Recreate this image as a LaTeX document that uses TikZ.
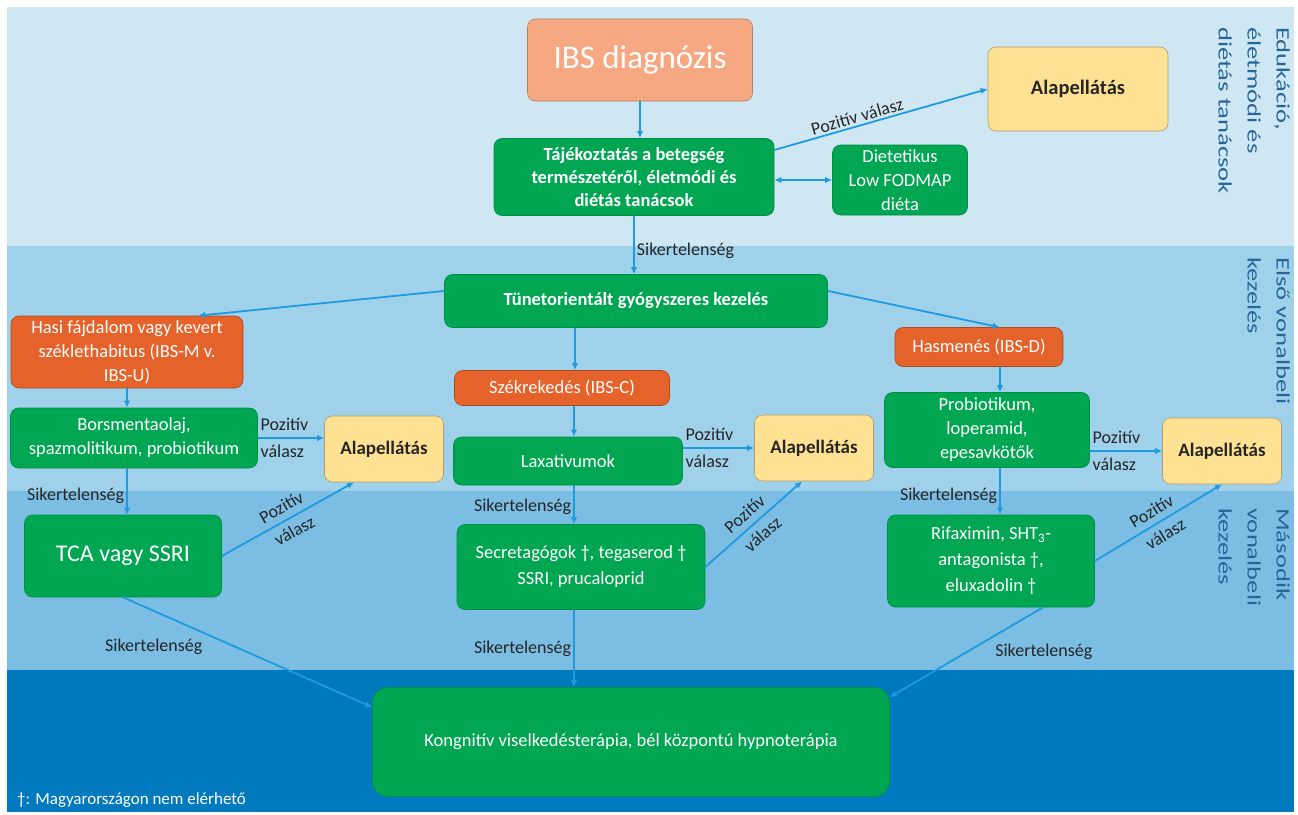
\documentclass[tikz,border=0pt]{standalone}
\usepackage{fontspec}
\setmainfont{Carlito}
\newfontfamily\sidefont[FakeStretch=1.4]{Carlito}
\usetikzlibrary{arrows.meta}

\definecolor{savA}{HTML}{CFE6F3}
\definecolor{savB}{HTML}{A0D1EA}
\definecolor{savC}{HTML}{7BBDE3}
\definecolor{savD}{HTML}{0079BE}
\definecolor{zold}{HTML}{00A651}
\definecolor{narancs}{HTML}{E5622A}
\definecolor{lazac}{HTML}{F5A882}
\definecolor{sarga}{HTML}{FFE194}
\definecolor{nyil}{HTML}{1E9BE0}
\definecolor{felirat}{HTML}{26679A}
\definecolor{szoveg}{HTML}{262626}

\begin{document}
\begin{tikzpicture}[x=1pt,y=-1pt,
    font=\fontsize{18.5}{24}\selectfont,
    >={Latex[length=7pt,width=6.5pt]},
    box/.style={rounded corners=8pt,inner sep=2pt,align=center,line width=0.6pt},
    gbox/.style={box,fill=zold,draw=zold!85!black,text=white},
    obox/.style={box,fill=narancs,draw=narancs!75!black,text=white},
    ybox/.style={box,fill=sarga,draw=sarga!70!black,text=szoveg,font=\fontsize{19}{24}\selectfont\bfseries},
    arr/.style={->,draw=nyil,line width=1.8pt},
    lbl/.style={text=szoveg,inner sep=2pt,font=\fontsize{18}{27}\selectfont},
    side/.style={text=felirat,rotate=-90,anchor=north west,align=left,inner sep=0pt,font=\sidefont\fontsize{19}{29}\selectfont}]
  \useasboundingbox (0,0) rectangle (1298,814);
  % savok
  \foreach \ya/\yb/\szin in {7/246/savA,246/491/savB,491/670/savC,670/812/savD}
    \fill[\szin] (7,\ya) rectangle (1294,\yb);
  \node[side] (edu) at (1290,27) {Edukáció,\\életmódi és\\diétás tanácsok};
  \node[side] (elso) at (1290,257) {Első vonalbeli\\kezelés};
  \node[side] (masod) at (1290,508) {Második\\vonalbeli\\kezelés};

  % dobozok
  \node[box,fill=lazac,draw=lazac!75!black,text=white,minimum width=225pt,minimum height=82pt,
    font=\fontsize{33}{36}\selectfont] (ibs) at (640,60) {IBS diagnózis};
  \node[ybox,minimum width=180pt,minimum height=84pt,font=\fontsize{20.5}{24}\selectfont\bfseries]
    (alap0) at (1078,89) {Alapellátás};
  \node[gbox,minimum width=280pt,minimum height=77pt,font=\fontsize{18.5}{23}\selectfont\bfseries]
    (taj) at (634,177) {Tájékoztatás a betegség\\természetéről, életmódi és\\diétás tanácsok};
  \node[gbox,minimum width=135pt,minimum height=70pt] (diet) at (900,180) {Dietetikus\\Low FODMAP\\diéta};
  \node[gbox,minimum width=383pt,minimum height=53pt,font=\fontsize{18.5}{24}\selectfont\bfseries]
    (tun) at (636,301) {Tünetorientált gyógyszeres kezelés};
  \node[obox,minimum width=232pt,minimum height=72pt] (hasi) at (127,352)
    {Hasi fájdalom vagy kevert\\széklethabitus (IBS-M v.\\IBS-U)};
  \node[obox,minimum width=215pt,minimum height=35pt] (szek) at (562,388) {Székrekedés (IBS-C)};
  \node[obox,minimum width=168pt,minimum height=39pt] (hasm) at (979,347) {Hasmenés (IBS-D)};
  \node[gbox,minimum width=247pt,minimum height=60pt] (bors) at (134,438) {Borsmentaolaj,\\spazmolitikum, probiotikum};
  \node[gbox,minimum width=229pt,minimum height=48pt] (lax) at (568,461) {Laxativumok};
  \node[gbox,minimum width=205pt,minimum height=75pt] (prob) at (987,430) {Probiotikum,\\loperamid,\\epesavkötők};
  \foreach \n/\x/\y in {1/384/449,2/814/448,3/1222/451}
    \node[ybox,minimum width=119pt,minimum height=66pt] (alap\n) at (\x,\y) {Alapellátás};
  \node[gbox,minimum width=197pt,minimum height=82pt,font=\fontsize{24}{28}\selectfont] (tca) at (123,556) {TCA vagy SSRI};
  \node[gbox,minimum width=248pt,minimum height=85pt,font=\fontsize{18.5}{26}\selectfont] (sec) at (581,567)
    {Secretagógok †, tegaserod †\\SSRI, prucaloprid};
  \node[gbox,minimum width=207pt,minimum height=92pt,font=\fontsize{18.5}{26}\selectfont] (rif) at (991,561)
    {Rifaximin, SHT\textsubscript{3}-\\antagonista †,\\eluxadolin †};
  \node[gbox,rounded corners=15pt,minimum width=517pt,minimum height=109pt] (kong) at (631,742)
    {Kongnitív viselkedésterápia, bél központú hypnoterápia};
  \node[text=white,anchor=west,inner sep=0pt,font=\fontsize{17}{20}\selectfont] (labj) at (17,800)
    {†: Magyarországon nem elérhető};

  % nyilak
  \draw[arr] (ibs.south) -- (ibs.south |- taj.north);
  \draw[arr] ([yshift=27pt]taj.east) -- (alap0.west) node[lbl,pos=0.4,above,sloped] {Pozitív válasz};
  \draw[arr,<->] (taj.east |- diet.west) -- (diet.west);
  \draw[arr] (taj.south) -- (taj.south |- tun.north) node[lbl,pos=0.6,right] {Sikertelenség};
  \draw[arr] (tun.177) -- (hasi.27);
  \draw[arr] ([xshift=-61pt]tun.south) -- ([xshift=-61pt]tun.south |- szek.north);
  \draw[arr] (tun.3) -- (hasm.44);
  % bal oszlop
  \draw[arr] (hasi.south) -- (hasi.south |- bors.north);
  \draw[arr] (bors.east) -- (bors.east -| alap1.west) node[lbl,pos=0,anchor=west,align=left] {Pozitív\\válasz};
  \draw[arr] (hasi.south |- bors.south) -- (hasi.south |- tca.north) node[lbl,pos=0.6,left] {Sikertelenség};
  \draw[arr] (tca.east) -- ([xshift=-30pt]alap1.south) node[lbl,midway,sloped,align=center] {Pozitív\\válasz};
  \draw[arr] (tca.south) -- ([yshift=-20pt]kong.north west) node[lbl,pos=0.45,left=30pt] {Sikertelenség};
  % kozepso oszlop
  \draw[arr] ([xshift=12pt]szek.south) -- ([xshift=12pt]szek.south |- lax.north);
  \draw[arr] (alap2.west -| lax.east) -- (alap2.west) node[lbl,pos=0,anchor=west,align=left] {Pozitív\\válasz};
  \draw[arr] ([xshift=12pt]szek.south |- lax.south) -- ([xshift=12pt]szek.south |- sec.north)
    node[lbl,pos=0.55,left] {Sikertelenség};
  \draw[arr] (sec.east) -- ([xshift=-12pt]alap2.south) node[lbl,midway,sloped,align=center] {Pozitív\\válasz};
  \draw[arr] ([xshift=12pt]szek.south |- sec.south) -- ([xshift=12pt]szek.south |- kong.north)
    node[lbl,midway,left] {Sikertelenség};
  % jobb oszlop
  \draw[arr] ([xshift=21pt]hasm.south) -- ([xshift=21pt]hasm.south |- prob.north);
  \draw[arr] (alap3.west -| prob.east) -- (alap3.west) node[lbl,pos=0,anchor=west,align=left] {Pozitív\\válasz};
  \draw[arr] ([xshift=21pt]hasm.south |- prob.south) -- ([xshift=21pt]hasm.south |- rif.north)
    node[lbl,pos=0.6,left] {Sikertelenség};
  \draw[arr] (rif.east) -- (alap3.south) node[lbl,midway,sloped,align=center] {Pozitív\\válasz};
  \draw[arr] ([xshift=52pt]rif.south) -- ([yshift=-10pt]kong.north east) node[lbl,midway,right=26pt] {Sikertelenség};
\end{tikzpicture}
\end{document}
